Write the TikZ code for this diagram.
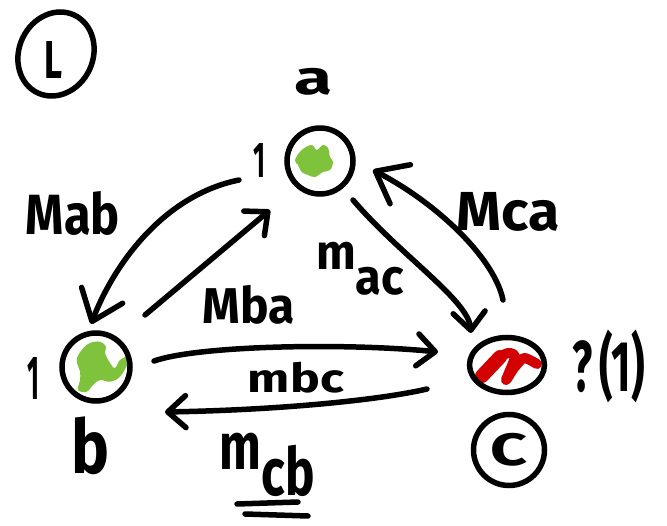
\documentclass[tikz,border=0pt]{standalone}
\usepackage{fontspec}
\setmainfont{Fira Sans}
\usepackage{graphicx}
\usetikzlibrary{arrows.meta,shapes.geometric,calc}
\definecolor{blobgreen}{RGB}{126,195,59}
\definecolor{blobred}{RGB}{210,0,0}
\newcommand{\hwtext}[3]{\resizebox*{#1pt}{#2pt}{\bfseries #3}}
\begin{document}
\begin{tikzpicture}[x=1pt,y=-1pt,
  stroke/.style={line width=5.5pt, line cap=round},
  ring/.style={draw, line width=5.5pt, circle, inner sep=0pt, outer sep=0pt},
  oval/.style={draw, line width=5.5pt, ellipse, inner sep=0pt, outer sep=0pt},
  txt/.style={inner sep=0pt, outer sep=0pt},
  arr/.style={line width=5.5pt, line cap=round, -{Straight Barb[round,length=18pt,width=32pt]}},
  bigarr/.style={line width=5.5pt, line cap=round, -{Straight Barb[round,length=28pt,width=44pt]}}]
\fill[white] (0,0) rectangle (667,526);
\useasboundingbox (0,0) rectangle (667,526);

% colour scribbles inside the nodes
\fill[blobgreen] plot[smooth cycle, tension=0.6] coordinates {(295,160) (301.7,150) (311.7,145) (316.7,150) (323,145) (328,148) (330,157) (333,162) (330,170) (323,172) (315,177) (308,175) (301.7,172) (298,165)};
\fill[blobgreen] plot[smooth cycle, tension=0.6] coordinates {(76.7,360) (81.7,350) (90,343) (100,341.7) (106,346.7) (105,353) (110,363) (115,368) (120,360) (128,356.7) (128,363) (120,376.7) (110,381.7) (100,380) (93,385) (86.7,391.7) (78,390) (80,380) (80,371.7)};
\draw[blobred, line width=10pt, line cap=round, line join=round] plot[smooth, tension=0.4] coordinates {(479,379) (494,361) (508,353) (515,357) (506,380) (514,368) (524,358) (537,364)};
\draw[blobred, line width=14pt, line cap=round] (482,376) -- (500,357);

% nodes
\node[ring, minimum size=66pt] (a) at (320,161) {};
\node[ring, minimum size=68pt] (b) at (96,367) {};
\node[oval, minimum width=75pt, minimum height=55pt] (c) at (507,365) {};

% circled marks
\node[oval, minimum width=74pt, minimum height=86pt, rotate=-25] (ringL) at (56,54) {};
\node[txt] (txtL) at (54,60) {\hwtext{18}{37}{L}};
\node[ring, minimum size=71pt] (ringC) at (509,450) {\hwtext{37}{33}{C}};

% labels
\node[txt] (lbla) at (314,82) {\hwtext{38}{27}{a}};
\node[txt] (onea) at (259,160) {\hwtext{12}{34}{1}};
\node[txt] (oneb) at (34,378) {\hwtext{12}{42}{1}};
\node[txt] (lblb) at (91,446) {\hwtext{38}{58}{b}};
\node[txt] (tab) at (73,213) {\hwtext{94}{44}{Mab}};
\node[txt] (tba) at (249,305) {\hwtext{92}{39}{Mba}};
\node[txt] (tac) at (360,268.5) {\hwtext{88}{53}{m\raisebox{-0.5em}{ac}}};
\node[txt] (tca) at (508,212) {\hwtext{103}{39}{Mca}};
\node[txt] (tbc) at (296,378) {\hwtext{96}{31}{mbc}};
\node[txt] (tcb) at (267.5,465) {\hwtext{95}{64}{m\raisebox{-0.4em}{cb}}};
\node[txt] (q) at (608.5,366.5) {\hwtext{73}{73}{?\,(1)}};
\draw[stroke] (237,504) -- (298,502);
\draw[stroke] (245,514) -- (308,516);

% connectors
\draw[bigarr] ($(a)+(-81,19)$) .. controls (165,195) and (115,262) .. ($(b)+(-5,-43)$);
\draw[arr] ($(b)+(49,-52)$) -- ($(a)+(-50,49)$);
\draw[arr] ($(a)+(33,39)$) .. controls (400,255) and (468,300) .. ($(c)+(-36,-32)$);
\draw[bigarr] ($(c)+(-4,-65)$) .. controls (495,260) and (440,205) .. ($(a)+(53,9)$);
\draw[arr] ($(b)+(58,-6)$) .. controls (200,345) and (350,343) .. ($(c)+(-69,-13)$);
\draw[arr] ($(c)+(-80,24)$) .. controls (380,400) and (280,410) .. ($(b)+(69,45)$);
\end{tikzpicture}
\end{document}
